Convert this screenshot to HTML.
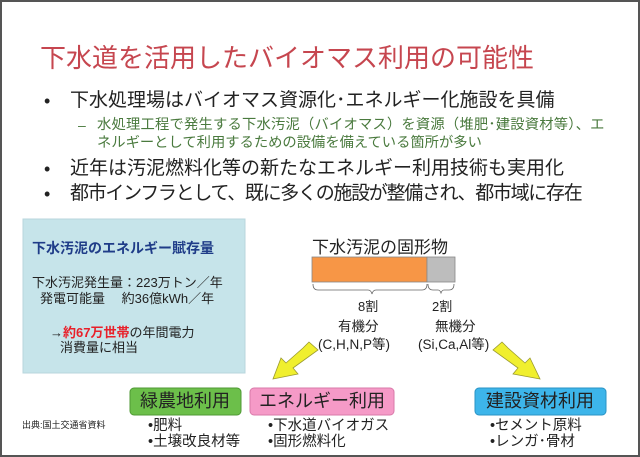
<!DOCTYPE html>
<html><head><meta charset="utf-8"><style>
body{margin:0;background:#fff}
#c{position:relative;width:640px;height:457px;overflow:hidden;background:#fff;font-family:"Liberation Sans","Noto Sans CJK JP",sans-serif;color:#222}
.a{position:absolute;white-space:nowrap;line-height:1}
</style></head><body><div id="c">
<svg width="640" height="457" style="position:absolute;left:0;top:0">
<rect x="1" y="1" width="638" height="455" fill="none" stroke="#555" stroke-width="2"/>
<rect x="23" y="219" width="222" height="154" fill="#c6e4ea" stroke="#b8d6dc"/>
<rect x="312" y="257" width="115" height="25" fill="#f79646" stroke="#888" stroke-width="0.8"/>
<rect x="427" y="257" width="28" height="25" fill="#bdbdbd" stroke="#888" stroke-width="0.8"/>
<path d="M313,284 q0,6 5,6 h50 q3,0 4,4 q1,-4 4,-4 h46 q5,0 5,-6" fill="none" stroke="#666" stroke-width="0.8"/>
<path d="M428,284 q0,6 5,6 h5 q2,0 3,3 q1,-3 3,-3 h5 q5,0 5,-6" fill="none" stroke="#666" stroke-width="0.8"/>
<g fill="#f0ef2e" stroke="#9a9a30" stroke-width="0.8">
<polygon points="309,342 318,350 293,368 298,374 273,379 281,358 286,363 303,348"/>
<polygon points="502,342 493,350 518,368 513,374 540,379 530,358 525,363 508,348"/>
</g>
<rect x="130" y="388" width="111" height="27" rx="4" fill="#6cbf4a" stroke="#4f9a34"/>
<rect x="250" y="388" width="144" height="27" rx="4" fill="#f59ac7" stroke="#d97aaa"/>
<rect x="475" y="388" width="131" height="27" rx="4" fill="#3db5ea" stroke="#2a93c4"/>
</svg>
<div class="a" style="left:40px;top:45px;font-size:26px;color:#c6464f">下水道を活用したバイオマス利用の可能性</div>
<div class="a" style="left:44px;top:92px;font-size:18px">•</div>
<div class="a" style="left:70px;top:91px;font-size:19px">下水処理場はバイオマス資源化･エネルギー化施設を具備</div>
<div class="a" style="left:78px;top:118px;font-size:14px;color:#4a7a3e">–</div>
<div class="a" style="left:97px;top:118px;font-size:14.3px;color:#4a7a3e;letter-spacing:0.2px">水処理工程で発生する下水汚泥（バイオマス）を資源（堆肥･建設資材等）、エ</div>
<div class="a" style="left:97px;top:136px;font-size:14.3px;color:#4a7a3e">ネルギーとして利用するための設備を備えている箇所が多い</div>
<div class="a" style="left:44px;top:160px;font-size:18px">•</div>
<div class="a" style="left:70px;top:159px;font-size:19px">近年は汚泥燃料化等の新たなエネルギー利用技術も実用化</div>
<div class="a" style="left:44px;top:185px;font-size:18px">•</div>
<div class="a" style="left:70px;top:184px;font-size:19px;letter-spacing:-1.3px">都市インフラとして、既に多くの施設が整備され、都市域に存在</div>
<div class="a" style="left:32px;top:241px;font-size:14px;font-weight:bold;color:#1f3c88">下水汚泥のエネルギー賦存量</div>
<div class="a" style="left:32px;top:276px;font-size:13px">下水汚泥発生量：223万トン／年</div>
<div class="a" style="left:40px;top:292px;font-size:13px">発電可能量　 約36億kWh／年</div>
<div class="a" style="left:50px;top:326px;font-size:13px">→<b style="color:#e8202a">約67万世帯</b>の年間電力</div>
<div class="a" style="left:60px;top:341px;font-size:13px">消費量に相当</div>
<div class="a" style="left:312px;top:239px;font-size:17px">下水汚泥の固形物</div>
<div class="a" style="left:358px;top:300px;font-size:13px">8割</div>
<div class="a" style="left:432px;top:300px;font-size:13px">2割</div>
<div class="a" style="left:338px;top:320px;font-size:13.5px">有機分</div>
<div class="a" style="left:435px;top:320px;font-size:13.5px">無機分</div>
<div class="a" style="left:318px;top:338px;font-size:13.5px">(C,H,N,P等)</div>
<div class="a" style="left:418px;top:338px;font-size:13.5px">(Si,Ca,Al等)</div>
<div class="a" style="left:140px;top:392px;font-size:18px">緑農地利用</div>
<div class="a" style="left:259px;top:392px;font-size:18px">エネルギー利用</div>
<div class="a" style="left:486px;top:392px;font-size:18px">建設資材利用</div>
<div class="a" style="left:22px;top:421px;font-size:9px">出典:国土交通省資料</div>
<div class="a" style="left:148px;top:419px;font-size:14.5px">•肥料</div>
<div class="a" style="left:148px;top:435px;font-size:14.5px">•土壌改良材等</div>
<div class="a" style="left:268px;top:419px;font-size:14.5px">•下水道バイオガス</div>
<div class="a" style="left:268px;top:435px;font-size:14.5px">•固形燃料化</div>
<div class="a" style="left:490px;top:419px;font-size:14.5px">•セメント原料</div>
<div class="a" style="left:490px;top:435px;font-size:14.5px">•レンガ･骨材</div>
</div></body></html>
